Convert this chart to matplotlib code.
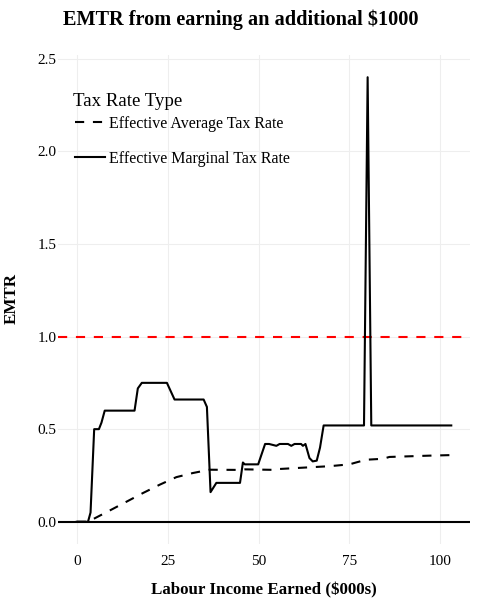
import matplotlib
matplotlib.use("Agg")
import matplotlib.pyplot as plt

plt.rcParams['font.family'] = ['Liberation Serif', 'DejaVu Serif']

# Effective marginal tax rate
emtr_x = [0, 3.1, 3.8, 4.8, 6.1, 6.8, 7.7, 15.9, 16.8, 17.9, 24.8, 26.9, 34.9,
          35.8, 36.8, 38.4, 44.9, 45.7, 46.2, 49.9, 51.8, 52.9, 54.9, 55.8,
          58.1, 59.0, 59.9, 61.7, 62.2, 62.9, 64.0, 64.9, 66.0, 66.9, 67.9,
          79.0, 80.0, 81.0, 103]
emtr_y = [0, 0, 0.05, 0.50, 0.50, 0.535, 0.60, 0.60, 0.72, 0.75, 0.75, 0.66, 0.66,
          0.62, 0.16, 0.21, 0.21, 0.32, 0.31, 0.31, 0.42, 0.42, 0.41, 0.42,
          0.42, 0.41, 0.42, 0.42, 0.41, 0.42, 0.344, 0.326, 0.33, 0.40, 0.52,
          0.52, 2.40, 0.52, 0.52]

# Effective average tax rate
eatr_x = [0, 3.1, 9.1, 18.2, 22.8, 27.4, 31.9, 36.5, 44.8, 46.2, 55.0, 55.8,
          60.3, 69.5, 75.0, 76.8, 79.6, 84.2, 86.0, 97.0, 103]
eatr_y = [0, 0, 0.061, 0.155, 0.20, 0.241, 0.263, 0.281, 0.28, 0.283, 0.28, 0.285,
          0.29, 0.30, 0.31, 0.32, 0.335, 0.34, 0.35, 0.357, 0.36]

W, H = 482, 600
fig = plt.figure(figsize=(W / 100, H / 100), dpi=100)
ax = fig.add_axes([58 / W, 1 - 544 / H, 412 / W, 489 / H])

LW = 1.5
ax.plot(eatr_x, eatr_y, color='black', lw=LW, dashes=(4.4, 4.2),
        label='Effective Average Tax Rate')
ax.plot(emtr_x, emtr_y, color='black', lw=LW, label='Effective Marginal Tax Rate')
ax.axhline(0, color='black', lw=LW, zorder=1)
ax.axhline(1, color='red', lw=LW, dashes=(4.4, 4.2), zorder=1)

ax.set_xlim(-5.15, 108.15)
ax.set_ylim(-0.12, 2.52)
ax.set_xticks([0, 25, 50, 75, 100])
ax.set_yticks([0, 0.5, 1.0, 1.5, 2.0, 2.5])
ax.set_yticklabels(['0.0', '0.5', '1.0', '1.5', '2.0', '2.5'])
ax.grid(True, color='#eeeeee', lw=0.8)
ax.set_axisbelow(True)
for s in ax.spines.values():
    s.set_visible(False)
ax.tick_params(length=0, labelsize=11)
ax.tick_params(axis='y', pad=1)
ax.tick_params(axis='x', pad=8)

fig.text(241 / W, 1 - 20 / H, 'EMTR from earning an additional $1000', fontsize=14.6,
         fontweight='bold', ha='center', va='center')
fig.text(264 / W, 1 - 590 / H, 'Labour Income Earned ($000s)', fontsize=12.2,
         fontweight='bold', ha='center', va='center')
fig.text(12 / W, 1 - 299 / H, 'EMTR', fontsize=12.2, fontweight='bold',
         rotation=90, ha='center', va='center')

# legend title drawn separately so its gap can differ from the row gap
fig.text(73 / W, 1 - 101 / H, 'Tax Rate Type', fontsize=13.6, ha='left', va='center')
leg = ax.legend(loc='upper left', bbox_to_anchor=(17 / 412, 1 - 61 / 489),
                frameon=False, fontsize=11.5, handlelength=1.85,
                labelspacing=1.17, handletextpad=0.3, borderaxespad=0,
                borderpad=0)

fig.savefig('out.png', dpi=100)
